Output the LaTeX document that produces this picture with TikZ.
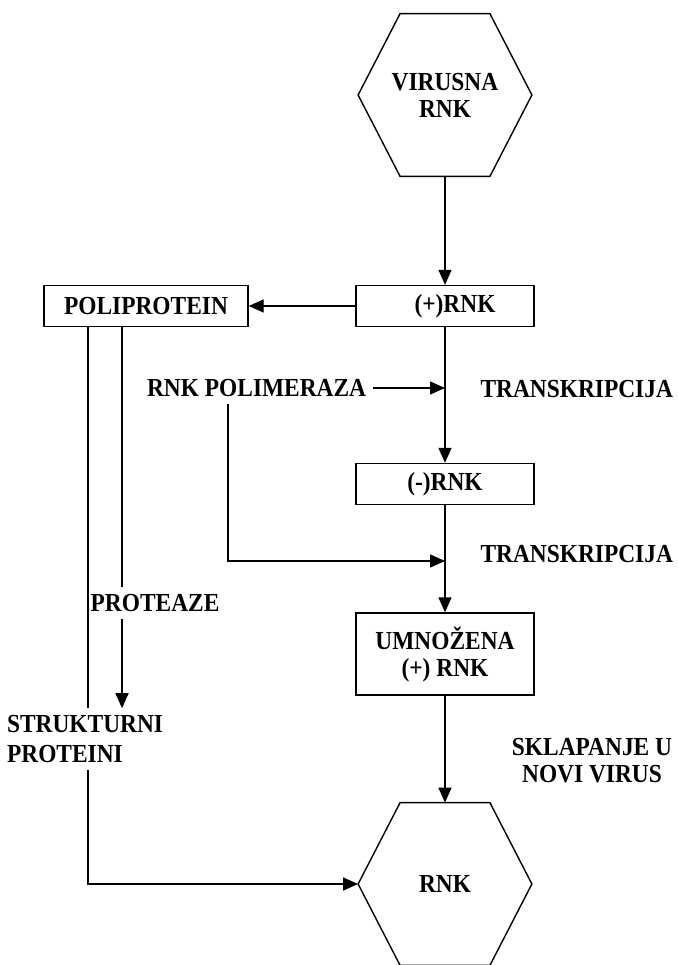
\documentclass[tikz,border=0pt]{standalone}
\usepackage{fontspec}
\setmainfont{Liberation Serif}[FakeStretch=0.9]
\usetikzlibrary{arrows.meta, positioning}

% hexagon outline drawn round a (hidden) rectangular node
\newcommand{\hexoutline}[1]{%
  \draw[link] ([xshift=21pt]#1.north west) -- ([xshift=-21pt]#1.north east)
    -- (#1.east) -- ([xshift=-21pt]#1.south east) -- ([xshift=21pt]#1.south west)
    -- (#1.west) -- cycle;}

\begin{document}
\begin{tikzpicture}[
        x=0.5pt, y=-0.5pt,
        font=\fontsize{13}{13.5}\selectfont\bfseries,
        box/.style={draw, line width=0.7pt, minimum width=89pt, minimum height=20.5pt, inner sep=2pt, align=center},
        hexa/.style={minimum width=86.5pt, minimum height=81pt, inner sep=0pt, align=center},
        lbl/.style={align=center},
        link/.style={line width=0.7pt},
        arr/.style={-{Triangle[length=7.5pt, width=6.5pt]}, line width=0.7pt}
      ]
        \useasboundingbox[fill=white] (0,0) rectangle (678,965);

        \node[hexa] (vir) at (445,95) {VIRUSNA\\RNK};
        \node[box] (plus) at (445,306) {\hspace*{10pt}(+)RNK};
        \node[box, minimum width=102pt] (poly) at (146,306) {POLIPROTEIN};
        \node[box] (minus) at (445,484) {(-)RNK};
        \node[box, minimum height=41pt] (umn) at (445,654) {UMNOŽENA\\(+) RNK};
        \node[hexa] (rnk) at (445,884) {RNK};
        \hexoutline{vir}
        \hexoutline{rnk}

        \node[lbl, anchor=west] (pol) at (140,388) {RNK POLIMERAZA};
        \node[lbl, anchor=east] (tr1) at (680,389) {TRANSKRIPCIJA};
        \node[lbl, anchor=east] (tr2) at (680,554) {TRANSKRIPCIJA};
        \node[lbl] (prot) at (155,603) {PROTEAZE};
        \node[align=left, anchor=west, font=\fontsize{13}{15}\selectfont\bfseries] (strukt) at (0,739) {STRUKTURNI\\PROTEINI};
        \node[lbl] (skl) at (592,761) {SKLAPANJE U\\NOVI VIRUS};

        \coordinate (lx) at (88,0);
        \coordinate (rx) at (122,0);
        \coordinate (bend) at (228,561);

        \draw[arr] (vir.south) -- (plus.north);
        \draw[arr] (plus.west) -- (poly.east);
        \draw[arr] (plus.south) -- (minus.north);
        \draw[arr] (pol.east) -- (pol.east -| plus.south);
        \draw[arr] (minus.south) -- (umn.north);
        \draw[arr] (bend |- pol.south) -- (bend) -- (bend -| minus.south);
        \draw[arr] (umn.south) -- (rnk.north);

        \draw[link] (poly.south -| rx) -- (prot.north -| rx);
        \draw[arr] (prot.south -| rx) -- (strukt.north -| rx);
        \draw[link] (poly.south -| lx) -- (strukt.north -| lx);
        \draw[arr] (strukt.south -| lx) |- (rnk.west);
      \end{tikzpicture}
\end{document}
